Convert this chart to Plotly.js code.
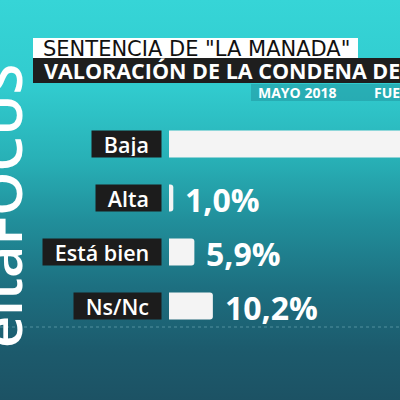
<!DOCTYPE html>
<html>
<head>
<meta charset="utf-8">
<script src="https://cdn.plot.ly/plotly-3.0.1.min.js"></script>
<style>
  html, body { margin: 0; padding: 0; background: #1d5a6b; }
  #chart {
    width: 400px; height: 400px; overflow: hidden;
    background: linear-gradient(to bottom, #36d5d7 0%, #31cbce 22%, #28b0b6 40%, #218f9b 55%, #1d6f80 72%, #1c5a6c 88%, #1c5264 100%);
  }
</style>
</head>
<body>
<div id="chart"></div>
<script>
// ---- data ----
const categories = ['Baja', 'Alta', 'Está bien', 'Ns/Nc'];
const values = [82.9, 1.0, 5.9, 10.2];
const valueLabels = ['82,9%', '1,0%', '5,9%', '10,2%'];
const titleLine1 = 'SENTENCIA DE "LA MANADA"';
const titleLine2 = 'VALORACIÓN DE LA CONDENA DE LOS ACUSADOS';
const dateText = 'MAYO 2018';
const sourceText = 'FUENTE';
const logoText = 'eltaFOCUS';

// ---- layout geometry (pixels) ----
const W = 400, H = 400;
const M = { l: 169, r: 0, t: 117, b: 67 };
const plotW = W - M.l - M.r, plotH = H - M.t - M.b;
const px = x => (x - M.l) / plotW;
const py = y => (H - M.b - y) / plotH;

const trace = {
  type: 'bar',
  orientation: 'h',
  y: categories,
  x: values,
  width: 0.5,
  marker: { color: '#f4f4f4', cornerradius: 3 },
  hoverinfo: 'skip'
};

const annotations = [];
categories.forEach((c, i) => {
  annotations.push({
    xref: 'paper', yref: 'y', x: px(162), y: c,
    xanchor: 'right', yanchor: 'middle',
    text: '\u2002' + c + '\u2002',
    showarrow: false,
    bgcolor: '#1c1c1c', borderpad: 1, height: 24,
    font: { family: 'Open Sans', size: 21.5, color: '#ffffff', weight: 600 }
  });
  annotations.push({
    xref: 'x', yref: 'y', x: values[i], y: c,
    xanchor: 'left', yanchor: 'middle', xshift: 10, yshift: -1,
    text: valueLabels[i], showarrow: false,
    font: { family: 'Open Sans', size: 32, color: '#ffffff', weight: 700 }
  });
});
// titles
annotations.push({
  xref: 'paper', yref: 'paper', x: px(41), y: py(48.5), xanchor: 'left', yanchor: 'middle',
  text: titleLine1, showarrow: false,
  font: { family: 'DejaVu Sans', size: 21, color: '#111111' }
});
annotations.push({
  xref: 'paper', yref: 'paper', x: px(42), y: py(71), xanchor: 'left', yanchor: 'middle',
  text: titleLine2, showarrow: false,
  font: { family: 'Open Sans', size: 21.5, color: '#ffffff', weight: 700 }
});
annotations.push({
  xref: 'paper', yref: 'paper', x: px(256), y: py(92.5), xanchor: 'left', yanchor: 'middle',
  text: dateText, showarrow: false,
  font: { family: 'Open Sans', size: 14, color: '#ffffff', weight: 700 }
});
annotations.push({
  xref: 'paper', yref: 'paper', x: px(372), y: py(92.5), xanchor: 'left', yanchor: 'middle',
  text: sourceText, showarrow: false,
  font: { family: 'Open Sans', size: 14, color: '#ffffff', weight: 700 }
});
// vertical logo
annotations.push({
  xref: 'paper', yref: 'paper', x: px(0), y: py(206), xanchor: 'center', yanchor: 'middle',
  text: logoText, showarrow: false, textangle: -90,
  font: { family: 'Open Sans', size: 56, color: '#ffffff', weight: 600 }
});

const shapes = [
  { type: 'rect', xref: 'paper', yref: 'paper', x0: px(33), x1: px(358), y0: py(58), y1: py(38),
    fillcolor: '#ffffff', line: { width: 0 }, layer: 'below' },
  { type: 'rect', xref: 'paper', yref: 'paper', x0: px(33), x1: px(400), y0: py(83), y1: py(58),
    fillcolor: '#1e1e1e', line: { width: 0 }, layer: 'below' },
  { type: 'rect', xref: 'paper', yref: 'paper', x0: px(251), x1: px(400), y0: py(101), y1: py(84),
    fillcolor: 'rgba(30,140,150,0.45)', line: { width: 0 }, layer: 'below' },
  { type: 'line', xref: 'paper', yref: 'paper', x0: px(0), x1: px(400), y0: py(327), y1: py(327),
    line: { color: 'rgba(180,230,235,0.35)', width: 1, dash: 'dot' }, layer: 'below' }
];

const layout = {
  width: W, height: H,
  margin: M,
  paper_bgcolor: 'rgba(0,0,0,0)',
  plot_bgcolor: 'rgba(0,0,0,0)',
  showlegend: false,
  xaxis: { range: [0, plotW / 4.3], visible: false, fixedrange: true },
  yaxis: { type: 'category', categoryorder: 'array', categoryarray: categories,
           range: [3.5, -0.5], visible: false, fixedrange: true },
  annotations: annotations,
  shapes: shapes
};

Plotly.newPlot('chart', [trace], layout, { staticPlot: true, displayModeBar: false });
</script>
</body>
</html>
